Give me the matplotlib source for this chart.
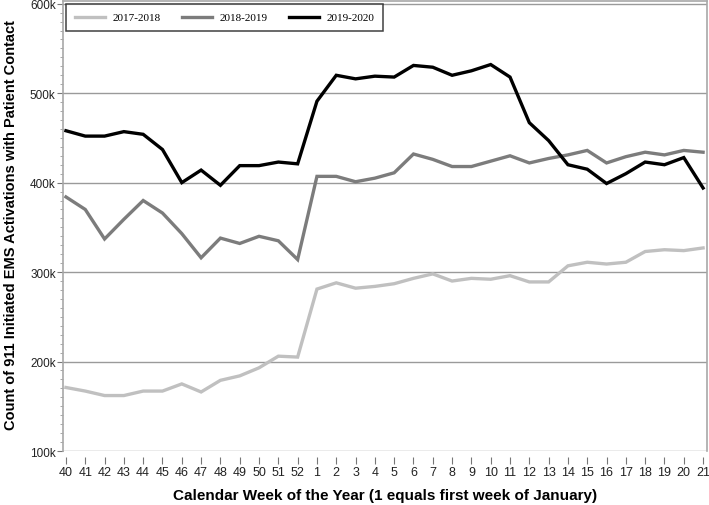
import matplotlib
matplotlib.use("Agg")
import matplotlib.pyplot as plt
from matplotlib.ticker import MultipleLocator, FuncFormatter

weeks = [40, 41, 42, 43, 44, 45, 46, 47, 48, 49, 50, 51, 52,
         1, 2, 3, 4, 5, 6, 7, 8, 9, 10, 11, 12, 13, 14, 15, 16, 17, 18, 19, 20, 21]

# values in thousands
s_2017_2018 = [171, 167, 162, 162, 167, 167, 175, 166, 179, 184, 193, 206, 205,
               281, 288, 282, 284, 287, 293, 298, 290, 293, 292, 296, 289, 289,
               307, 311, 309, 311, 323, 325, 324, 327]
s_2018_2019 = [384, 370, 337, 359, 380, 366, 343, 316, 338, 332, 340, 335, 314,
               407, 407, 401, 405, 411, 432, 426, 418, 418, 424, 430, 422, 427,
               431, 436, 422, 429, 434, 431, 436, 434]
s_2019_2020 = [458, 452, 452, 457, 454, 437, 400, 414, 397, 419, 419, 423, 421,
               491, 520, 516, 519, 518, 531, 529, 520, 525, 532, 518, 467, 447,
               420, 415, 399, 410, 423, 420, 428, 394]

series = [("2017-2018", s_2017_2018, "#c0c0c0"),
          ("2018-2019", s_2018_2019, "#7c7c7c"),
          ("2019-2020", s_2019_2020, "#000000")]

fig = plt.figure(figsize=(7.09, 5.06), dpi=100)
ax = fig.add_axes([0.0884, 0.1067, 0.9087, 0.8893])

x = list(range(len(weeks)))
for name, vals, col in series:
    ax.plot(x, vals, color=col, linewidth=2.4, label=name, solid_joinstyle="miter")

ax.set_xlim(-0.17, len(weeks) - 1 + 0.2)
ax.set_ylim(100, 603)
ax.yaxis.set_major_locator(MultipleLocator(100))
ax.yaxis.set_minor_locator(MultipleLocator(10))
ax.yaxis.set_major_formatter(FuncFormatter(lambda v, p: f"{int(v)}k"))
ax.set_xticks(x)
ax.set_xticklabels([str(w) for w in weeks])

ax.grid(axis="y", which="major", color="#9a9a9a", linewidth=1)
ax.set_axisbelow(True)

for side in ["top", "right", "left"]:
    ax.spines[side].set_color("#a8a8a8")
    ax.spines[side].set_linewidth(1.2)
ax.spines["bottom"].set_position(("outward", 4))
ax.spines["bottom"].set_color("none")

ax.tick_params(axis="y", which="major", length=4, width=0.8, color="#777777",
               labelsize=8.5, pad=1, labelcolor="#222222")
ax.tick_params(axis="y", which="minor", length=2, width=0.6, color="#999999")
ax.tick_params(axis="x", which="major", length=5, width=0.8, color="#777777",
               labelsize=9, pad=2, labelcolor="#222222")
for lab in ax.get_xticklabels() + ax.get_yticklabels():
    lab.set_family("Liberation Sans")

leg = ax.legend(loc="upper left", ncol=3, bbox_to_anchor=(0.005, 0.994),
                prop={"family": "Liberation Serif", "size": 8},
                frameon=True, fancybox=False, handlelength=2.7,
                columnspacing=1.9, borderpad=0.8, handletextpad=0.7,
                borderaxespad=0)
leg.get_frame().set_edgecolor("#111111")
leg.get_frame().set_linewidth(1.1)

fig.text(0.016, 0.556, "Count of 911 Initiated EMS Activations with Patient Contact",
         rotation=90, ha="center", va="center", fontsize=10.5, fontweight="bold",
         family="Liberation Sans")
fig.text(0.543, 0.019, "Calendar Week of the Year (1 equals first week of January)",
         ha="center", va="center", fontsize=11, fontweight="bold",
         family="Liberation Sans")

fig.savefig("out.png", dpi=100)
